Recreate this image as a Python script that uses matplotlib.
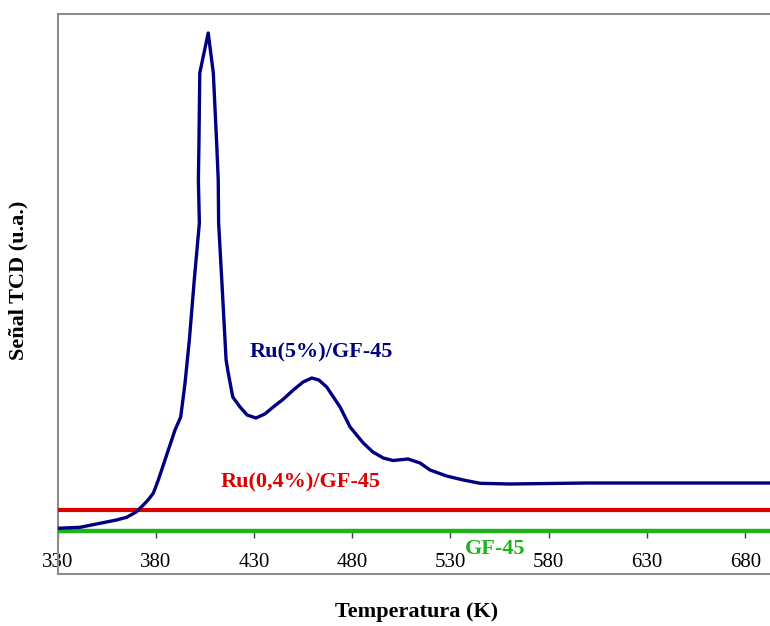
import matplotlib.pyplot as plt

# Señal TCD de Ru(5%)/GF-45 frente a la temperatura (u.a.)
temp_ru5 = [330.0, 341.5, 351.6, 360.0, 365.2, 370.0, 373.7, 376.5, 378.8, 381.3,
            386.4, 389.8, 392.7, 394.9, 397.1, 399.6, 402.2, 401.7, 402.0, 402.4,
            406.7, 409.3, 411.0, 411.8, 412.0, 413.6, 415.8, 416.9, 419.2, 422.9,
            426.5, 431.0, 435.5, 439.8, 445.0, 450.0, 455.0, 459.4, 463.0, 467.0,
            473.8, 478.9, 485.6, 490.5, 495.8, 500.7, 508.4, 514.5, 519.6, 528.0,
            536.5, 545.0, 560.0, 580.0, 600.0, 640.0, 693.0]
senal_ru5 = [0.027, 0.037, 0.077, 0.11, 0.137, 0.19, 0.26, 0.32, 0.38, 0.51,
             0.81, 1.01, 1.14, 1.48, 1.91, 2.51, 3.08, 3.51, 3.90, 4.58,
             4.98, 4.58, 3.88, 3.51, 3.08, 2.51, 1.71, 1.58, 1.34, 1.24,
             1.16, 1.13, 1.17, 1.24, 1.32, 1.41, 1.49, 1.53, 1.51, 1.44,
             1.24, 1.04, 0.88, 0.79, 0.73, 0.705, 0.72, 0.68, 0.61, 0.55,
             0.51, 0.477, 0.47, 0.475, 0.48, 0.48, 0.48]

# Ru(0,4%)/GF-45 y GF-45: señal plana
temp_plana = [330.0, 693.0]
senal_ru04 = [0.21, 0.21]
senal_gf45 = [0.0, 0.0]

xticks = [330, 380, 430, 480, 530, 580, 630, 680]

plt.rcParams['font.family'] = ['Liberation Serif', 'DejaVu Serif']

fig = plt.figure(figsize=(7.7, 6.26), dpi=100)
ax = fig.add_axes([57.5 / 770, 1 - 574 / 626, 712.5 / 770, 560 / 626])

ax.plot(temp_plana, senal_gf45, color="#1db31d", lw=3.2, solid_capstyle="butt", zorder=3)
ax.plot(temp_plana, senal_ru04, color="#dd0000", lw=3.0, solid_capstyle="butt", zorder=3)
ax.plot(temp_ru5, senal_ru5, color="#000080", lw=2.4, zorder=4,
        solid_joinstyle="round")

ax.set_xlim(330, 692.6)
ax.set_ylim(-0.43, 5.17)

# marco gris del área del gráfico
gris = "#8c8c8c"
ax.spines["right"].set_visible(False)
ax.spines["left"].set_color(gris)
ax.spines["top"].set_color(gris)
ax.spines["left"].set_linewidth(1.5)
ax.spines["top"].set_linewidth(1.5)
ax.plot([0, 1], [0, 0], transform=ax.transAxes, color=gris, lw=1.5, clip_on=False)

# eje x cruzando en cero
ax.spines["bottom"].set_position(("data", 0))
ax.spines["bottom"].set_color("#404040")
ax.set_xticks(xticks)
ax.tick_params(axis="x", direction="out", length=5, width=1, color="#404040",
               labelsize=15, pad=11)
ax.set_yticks([])

ax.text(464.3, 1.79, "Ru(5%)/GF-45", color="#000080", fontsize=16, fontweight="bold",
        ha="center", va="center")
ax.text(453.9, 0.49, "Ru(0,4%)/GF-45", color="#dd0000", fontsize=16, fontweight="bold",
        ha="center", va="center")
ax.text(552.6, -0.18, "GF-45", color="#1db31d", fontsize=16, fontweight="bold",
        ha="center", va="center")

fig.text(417 / 770, 1 - 612 / 626, "Temperatura (K)", fontsize=16, fontweight="bold",
         ha="center", va="center")
fig.text(18 / 770, 1 - 280 / 626, "Señal TCD (u.a.)", fontsize=16, fontweight="bold",
         ha="center", va="center", rotation=90)

plt.savefig("out.png", dpi=100)
